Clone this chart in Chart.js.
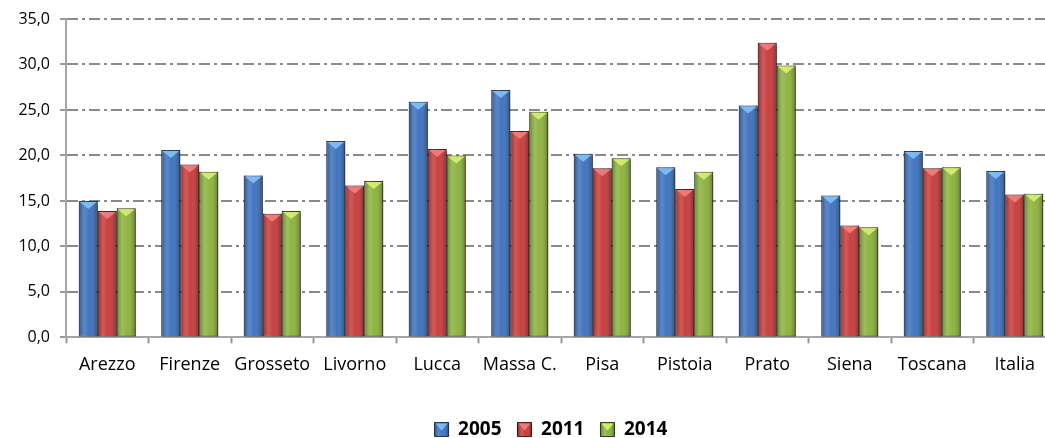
<!DOCTYPE html>
<html>
<head>
<meta charset="utf-8">
<script src="https://cdn.jsdelivr.net/npm/chart.js@4"></script>
<style>
    html, body { margin: 0; padding: 0; background: #fff; overflow: hidden; }
    #wrap { position: relative; width: 1056px; height: 449px; }
</style>
</head>
<body>
<div id="wrap"><canvas id="barChart"></canvas></div>
<script>
// Data
const categories = ['Arezzo', 'Firenze', 'Grosseto', 'Livorno', 'Lucca', 'Massa C.', 'Pisa', 'Pistoia', 'Prato', 'Siena', 'Toscana', 'Italia'];
const years = ['2005', '2011', '2014'];
const values2005 = [15.0, 20.6, 17.8, 21.6, 25.9, 27.2, 20.2, 18.7, 25.5, 15.6, 20.5, 18.3];
const values2011 = [13.9, 19.0, 13.6, 16.7, 20.7, 22.7, 18.6, 16.3, 32.4, 12.3, 18.6, 15.7];
const values2014 = [14.2, 18.2, 13.9, 17.2, 20.0, 24.8, 19.7, 18.2, 29.9, 12.1, 18.7, 15.8];
const yTicks = [0, 5, 10, 15, 20, 25, 30, 35];

// Colors per series: body, border, top bevel
const fills = ['#3b70bd', '#c63939', '#8bb13b'];
const borders = ['#1c2f52', '#4a1212', '#2f3d10'];
const bevels = ['#7fc2f7', '#f28080', '#d9ef70'];

const fmt = v => v.toFixed(1).replace('.', ',');

// shading + bevel drawn over the bars, y labels drawn outside the narrow axis box
const barDecor = {
    id: 'barDecor',
    beforeDatasetsDraw(chart) {
        const c = chart.ctx;
        c.save();
        c.shadowColor = 'rgba(0,0,0,0.35)';
        c.shadowBlur = 4;
        c.shadowOffsetX = 3;
        c.shadowOffsetY = 2;
    },
    afterDatasetsDraw(chart) {
        const c = chart.ctx;
        c.restore();
        chart.data.datasets.forEach((ds, di) => {
            const meta = chart.getDatasetMeta(di);
            meta.data.forEach(el => {
                const { x, y, base, width } = el.getProps(['x', 'y', 'base', 'width'], true);
                shadeBox(c, x - width / 2, y, width, base - y, di);
            });
        });
    },
    afterDraw(chart) {
        const c = chart.ctx;
        const ys = chart.scales.y;
        c.save();
        c.font = "16px 'Open Sans', sans-serif";
        c.fillStyle = '#000';
        c.textAlign = 'right';
        c.textBaseline = 'middle';
        ys.ticks.forEach(t => {
            c.fillText(fmt(t.value), chart.chartArea.left - 16, ys.getPixelForValue(t.value));
        });
        c.restore();

        const lg = chart.legend;
        if (!lg || !lg.legendHitBoxes) return;
        const bw = lg.options.labels.boxWidth;
        const bh = lg.options.labels.boxHeight;
        lg.legendHitBoxes.forEach((hb, i) => {
            const top = hb.top + (hb.height - bh) / 2;
            shadeBox(c, hb.left, top, bw, bh, i);
        });
    }
};

function shadeBox(c, left, top, w, h, i) {
    c.save();
    const g = c.createLinearGradient(left, 0, left + w, 0);
    g.addColorStop(0, 'rgba(0,0,0,0.28)');
    g.addColorStop(0.3, 'rgba(255,255,255,0.16)');
    g.addColorStop(0.55, 'rgba(255,255,255,0.04)');
    g.addColorStop(1, 'rgba(0,0,0,0.3)');
    c.fillStyle = g;
    c.fillRect(left, top, w, h);
    const th = Math.min(8, h);
    c.beginPath();
    c.moveTo(left + 1, top + 1);
    c.lineTo(left + w - 1, top + 1);
    c.lineTo(left + w / 2, top + th);
    c.closePath();
    c.fillStyle = bevels[i];
    c.globalAlpha = 0.9;
    c.fill();
    c.restore();
}

const seriesValues = [values2005, values2011, values2014];

const ctx = document.getElementById('barChart').getContext('2d');
new Chart(ctx, {
    type: 'bar',
    data: {
        labels: categories,
        datasets: years.map((yr, i) => ({
            label: yr,
            data: seriesValues[i],
            backgroundColor: fills[i],
            borderColor: borders[i],
            borderWidth: 1,
            borderSkipped: false,
            barPercentage: 1,
            categoryPercentage: 0.69
        }))
    },
    plugins: [barDecor],
    options: {
        responsive: true,
        maintainAspectRatio: false,
        animation: false,
        layout: { padding: { top: 19, right: 0, left: 46, bottom: 0 } },
        plugins: {
            tooltip: { enabled: false },
            legend: {
                position: 'bottom',
                labels: {
                    boxWidth: 14,
                    boxHeight: 14,
                    padding: 16,
                    color: '#000',
                    font: { family: "'Open Sans', sans-serif", size: 19, weight: 'bold' }
                }
            }
        },
        scales: {
            x: {
                afterFit: scale => { scale.height += 17; },
                grid: {
                    offset: true,
                    drawOnChartArea: false,
                    drawTicks: true,
                    tickLength: 6,
                    tickColor: '#999',
                    tickWidth: 2
                },
                border: { color: '#a6a6a6', width: 2 },
                ticks: {
                    color: '#000',
                    padding: 11,
                    maxRotation: 0,
                    autoSkip: false,
                    font: { family: "'Open Sans', sans-serif", size: 18 }
                }
            },
            y: {
                min: 0,
                max: 35,
                afterFit: scale => { scale.width = 20; },
                afterBuildTicks: scale => { scale.ticks = yTicks.map(v => ({ value: v })); },
                grid: {
                    color: '#8a8a8a',
                    lineWidth: 2,
                    tickLength: 6,
                    tickColor: '#999',
                    tickWidth: 2,
                    tickBorderDash: []
                },
                border: { color: '#a6a6a6', width: 2, dash: [11, 4, 3, 4] },
                ticks: { display: false }
            }
        }
    }
});
</script>
</body>
</html>
